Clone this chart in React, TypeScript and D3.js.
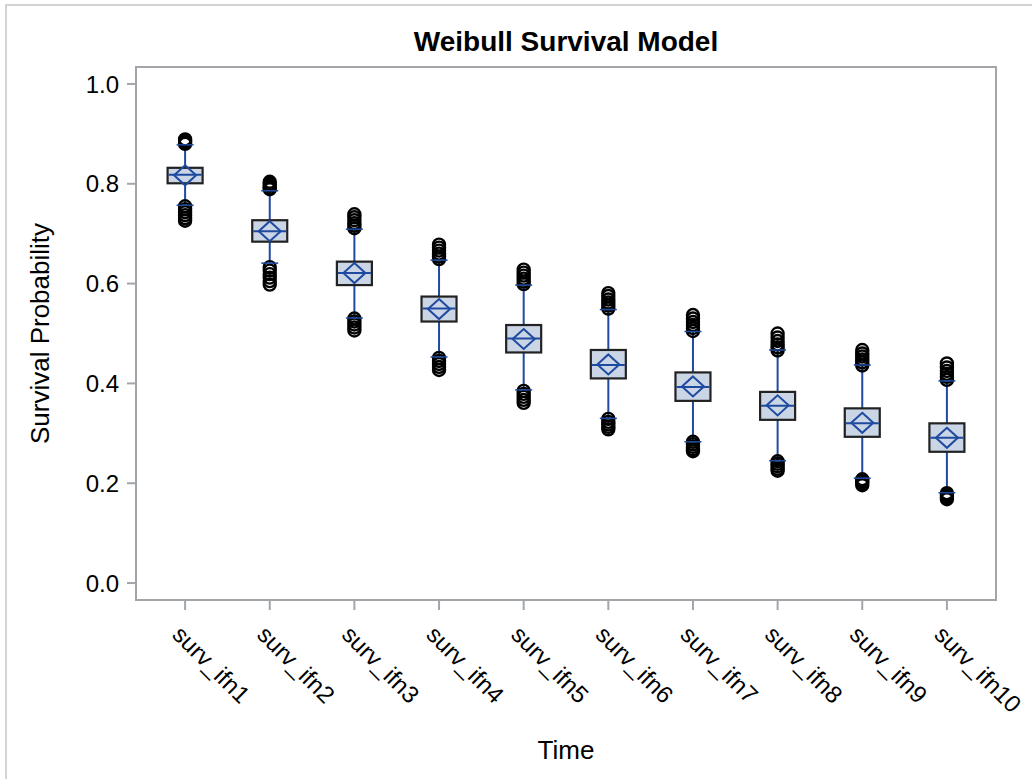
import React from 'react';
import * as d3 from 'd3';

const categories = ['surv_ifn1','surv_ifn2','surv_ifn3','surv_ifn4','surv_ifn5','surv_ifn6','surv_ifn7','surv_ifn8','surv_ifn9','surv_ifn10'];
const q1 = [0.801,0.684,0.597,0.524,0.462,0.410,0.365,0.327,0.293,0.263];
const medians = [0.818,0.705,0.621,0.550,0.490,0.437,0.393,0.355,0.320,0.291];
const q3 = [0.832,0.727,0.644,0.574,0.517,0.467,0.422,0.383,0.350,0.320];
const means = [0.817,0.705,0.621,0.549,0.489,0.438,0.394,0.356,0.321,0.291];
const whiskerLow = [0.757,0.641,0.531,0.453,0.387,0.330,0.283,0.245,0.210,0.181];
const whiskerHigh = [0.878,0.786,0.709,0.647,0.597,0.548,0.504,0.467,0.437,0.405];
const outliersHigh = [
  [0.880,0.883,0.886,0.889],
  [0.789,0.792,0.796,0.800,0.804],
  [0.711,0.716,0.721,0.727,0.733,0.739],
  [0.649,0.654,0.660,0.666,0.672,0.678],
  [0.599,0.604,0.610,0.616,0.622,0.628],
  [0.550,0.556,0.562,0.568,0.575,0.581],
  [0.505,0.511,0.517,0.523,0.530,0.537],
  [0.466,0.472,0.478,0.485,0.492,0.500],
  [0.436,0.442,0.448,0.454,0.460,0.467],
  [0.407,0.413,0.419,0.425,0.432,0.440],
];
const outliersLow = [
  [0.755,0.749,0.743,0.737,0.731,0.726],
  [0.633,0.626,0.619,0.612,0.605,0.598],
  [0.530,0.524,0.518,0.512,0.506],
  [0.451,0.445,0.439,0.433,0.427],
  [0.385,0.379,0.373,0.367,0.361],
  [0.329,0.323,0.318,0.313,0.308],
  [0.283,0.278,0.273,0.268,0.264],
  [0.244,0.239,0.234,0.229,0.225],
  [0.208,0.204,0.200,0.196],
  [0.180,0.176,0.172,0.168],
];
const yTicks = [0.0, 0.2, 0.4, 0.6, 0.8, 1.0];

const W = 1032, H = 779;
const L = 136, R = 996, T = 67, B = 600;
const FONT = "'Liberation Sans', Arial, Helvetica, sans-serif";
const BLUE = '#1f4aa0';
const FRAME = '#a2a6aa';

export default function App() {
  const x = d3.scalePoint<string>().domain(categories).range([L, R]).padding(0.58);
  const y = d3.scaleLinear().domain([-0.034, 1.034]).range([B, T]);
  const boxW = 35;
  const capW = 17;
  const dW = 11, dH = 10;
  return (
    <div style={{ position: 'absolute', left: 0, top: 0 }}>
      <svg width={W} height={H} style={{ display: 'block', fontFamily: FONT }}>
        <rect x={0} y={0} width={W} height={H} fill="#fff" />
        <rect x={6} y={5} width={W + 20} height={H + 20} fill="none" stroke="#d3d3d3" strokeWidth={2} />
        <text x={(L + R) / 2} y={51} textAnchor="middle" fontSize={28} fontWeight="bold" fill="#000">Weibull Survival Model</text>
        {yTicks.map((t) => (
          <g key={t}>
            <line x1={L - 9} x2={L} y1={y(t)} y2={y(t)} stroke={FRAME} strokeWidth={2} />
            <text x={L - 17} y={y(t)} dy="0.36em" textAnchor="end" fontSize={24} fill="#000">{d3.format('.1f')(t)}</text>
          </g>
        ))}
        {categories.map((c) => (
          <g key={c}>
            <line x1={x(c)} x2={x(c)} y1={B} y2={B + 10} stroke={FRAME} strokeWidth={2} />
            <text transform={`translate(${(x(c) as number) - 14},${B + 36}) rotate(45)`} fontSize={24} fill="#000">{c}</text>
          </g>
        ))}
        {categories.map((c, i) => {
          const cx = x(c) as number;
          return (
            <g key={'b' + c}>
              <line x1={cx} x2={cx} y1={y(whiskerHigh[i])} y2={y(q3[i])} stroke={BLUE} strokeWidth={2} />
              <line x1={cx} x2={cx} y1={y(q1[i])} y2={y(whiskerLow[i])} stroke={BLUE} strokeWidth={2} />
              {outliersHigh[i].map((v, j) => (
                <circle key={'h' + j} cx={cx} cy={y(v)} r={6} fill="none" stroke="#000" strokeWidth={2.4} />
              ))}
              {outliersLow[i].map((v, j) => (
                <circle key={'l' + j} cx={cx} cy={y(v)} r={6} fill="none" stroke="#000" strokeWidth={2.4} />
              ))}
              <line x1={cx - capW / 2} x2={cx + capW / 2} y1={y(whiskerHigh[i])} y2={y(whiskerHigh[i])} stroke={BLUE} strokeWidth={1.5} />
              <line x1={cx - capW / 2} x2={cx + capW / 2} y1={y(whiskerLow[i])} y2={y(whiskerLow[i])} stroke={BLUE} strokeWidth={1.5} />
              <rect x={cx - boxW / 2} y={y(q3[i])} width={boxW} height={y(q1[i]) - y(q3[i])} fill="#cad5e6" stroke="#222" strokeWidth={2.2} />
              <line x1={cx - boxW / 2 + 1} x2={cx + boxW / 2 - 1} y1={y(medians[i])} y2={y(medians[i])} stroke={BLUE} strokeWidth={2} />
              <path d={`M${cx},${y(means[i]) - dH} L${cx + dW},${y(means[i])} L${cx},${y(means[i]) + dH} L${cx - dW},${y(means[i])} Z`} fill="none" stroke={BLUE} strokeWidth={2} />
            </g>
          );
        })}
        <rect x={L} y={T} width={R - L} height={B - T} fill="none" stroke={FRAME} strokeWidth={2} />
        <text transform={`translate(49,${(T + B) / 2}) rotate(-90)`} textAnchor="middle" fontSize={26} fill="#000">Survival Probability</text>
        <text x={(L + R) / 2} y={759} textAnchor="middle" fontSize={26} fill="#000">Time</text>
      </svg>
    </div>
  );
}
